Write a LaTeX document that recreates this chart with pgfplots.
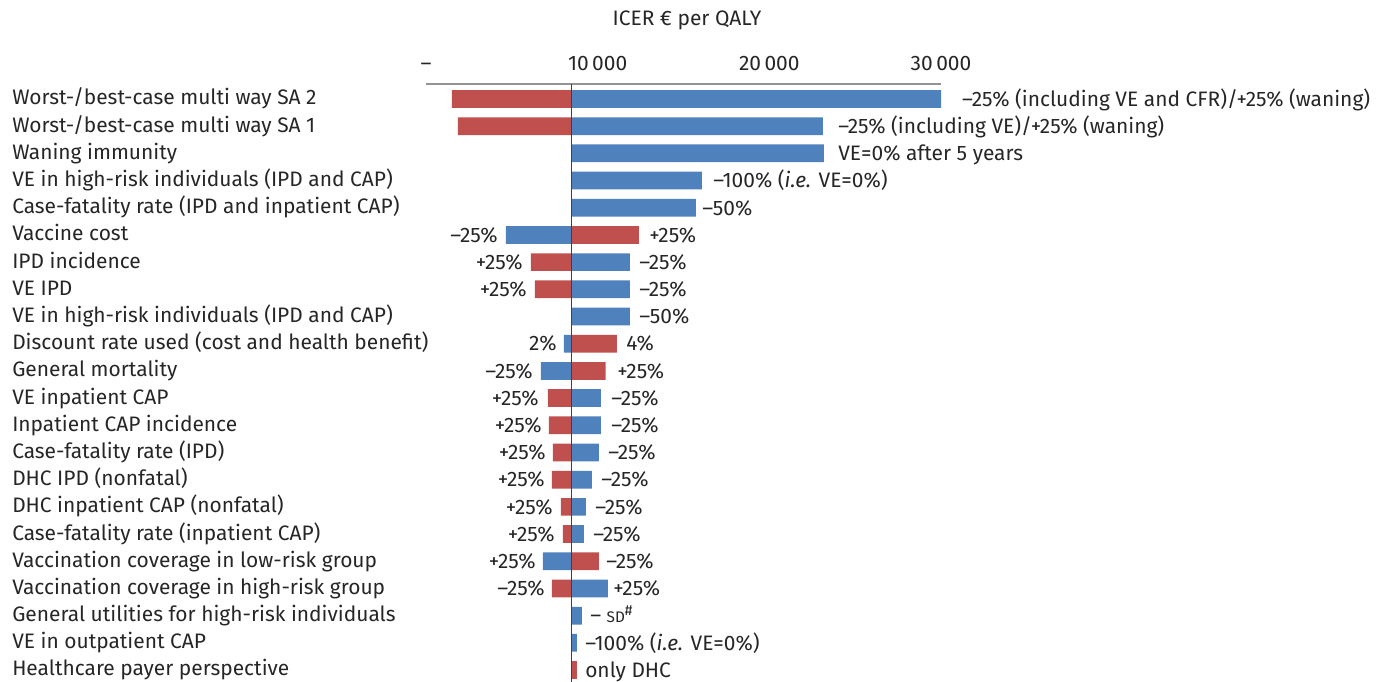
\documentclass[border=0pt]{standalone}
\usepackage{fontspec}
\setmainfont{Fira Sans}
\usepackage{pgfplots}
\usepackage{pgfplotstable}
\pgfplotsset{compat=1.18}
\definecolor{barblue}{HTML}{4F81BD}
\definecolor{barred}{HTML}{C0504D}
\definecolor{txt}{HTML}{262626}

\pgfplotstableread{
y x
1 1514
2 1864
7 6115
8 6348
12 7105
13 7164
14 7397
15 7338
16 7863
17 7979
19 7338
}\leftred
\pgfplotstableread{
y x
6 4659
10 8037
11 6698
18 6814
}\leftblue
\pgfplotstableread{
y x
1 30000
2 23120
3 23180
4 16075
5 15725
7 11881
8 11881
9 11881
12 10192
13 10192
14 10076
15 9668
16 9318
17 9202
19 10600
20 9085
21 8794
}\rightblue
\pgfplotstableread{
y x
6 12405
10 11124
11 10466
18 10076
22 8794
}\rightred

\begin{document}
\fontsize{15.7}{18}\selectfont
\begin{tikzpicture}[
  every node/.append style={text=txt},
  rl/.style={anchor=west, inner sep=0pt, text height=10.9pt, text depth=0pt},
  ll/.style={anchor=east, inner sep=0pt, text height=10.9pt, text depth=0pt}]
\path[use as bounding box] (0,0) rectangle (1034.25pt,511.5pt);
\node[inner sep=0pt, text height=10.9pt, text depth=0pt] at (515.25pt,497.5pt) {ICER € per QALY};
\begin{axis}[
  at={(319.5pt,0pt)}, anchor=south west,
  scale only axis, width=386.25pt, height=448.5pt,
  xmin=0, xmax=30000, ymin=0.45, ymax=22.44, y dir=reverse,
  x coord trafo/.code={\edef\pgfmathresult{\fpeval{(#1)-8490}}},
  scaled x ticks=false,
  axis line style={draw=none},
  major tick length=0pt,
  xtick={0,10000,20000,30000},
  xticklabels={–,10\,000,20\,000,30\,000},
  xticklabel pos=upper,
  xticklabel style={anchor=south, inner sep=0pt, text height=10.9pt, text depth=0pt, yshift=9.6pt},
  ytick={1,...,22},
  yticklabels={
    {Worst-/best-case multi way SA 2},
    {Worst-/best-case multi way SA 1},
    {Waning immunity},
    {VE in high-risk individuals (IPD and CAP)},
    {Case-fatality rate (IPD and inpatient CAP)},
    {Vaccine cost},
    {IPD incidence},
    {VE IPD},
    {VE in high-risk individuals (IPD and CAP)},
    {Discount rate used (cost and health benefit)},
    {General mortality},
    {VE inpatient CAP},
    {Inpatient CAP incidence},
    {Case-fatality rate (IPD)},
    {DHC IPD (nonfatal)},
    {DHC inpatient CAP (nonfatal)},
    {Case-fatality rate (inpatient CAP)},
    {Vaccination coverage in low-risk group},
    {Vaccination coverage in high-risk group},
    {General utilities for high-risk individuals},
    {VE in outpatient CAP},
    {Healthcare payer perspective}},
  yticklabel style={anchor=west, xshift=-310.5pt, yshift=1pt, inner sep=0pt, text height=10.9pt, text depth=0pt},
  xbar, bar width=13.3pt, bar shift=0pt,
  clip=false,
]
\addplot[xbar, bar shift=0pt, draw=none, fill=barred] table[x=x,y=y] {\leftred};
\addplot[xbar, bar shift=0pt, draw=none, fill=barblue] table[x=x,y=y] {\leftblue};
\addplot[xbar, bar shift=0pt, draw=none, fill=barblue] table[x=x,y=y] {\rightblue};
\addplot[xbar, bar shift=0pt, draw=none, fill=barred] table[x=x,y=y] {\rightred};

\draw[color=gray!85!white, line width=1pt] (axis cs:0,0.45) -- (axis cs:30000,0.45);
\draw[color=black!75, line width=1pt] (axis cs:8490,0.45) -- (axis cs:8490,22.44);

% right labels
\node[rl] at (axis cs:31222,1) {–25\% (including VE and CFR)/+25\% (waning)};
\node[rl] at (axis cs:24000,2) {–25\% (including VE)/+25\% (waning)};
\node[rl] at (axis cs:24000,3) {VE=0\% after 5 years};
\node[rl] at (axis cs:16718,4) {–100\% (\textit{i.e.} VE=0\%)};
\node[rl] at (axis cs:16077,5) {–50\%};
\node[rl] at (axis cs:12990,6) {+25\%};
\node[rl] at (axis cs:12407,7) {–25\%};
\node[rl] at (axis cs:12407,8) {–25\%};
\node[rl] at (axis cs:12407,9) {–50\%};
\node[rl] at (axis cs:11650,10) {4\%};
\node[rl] at (axis cs:11126,11) {+25\%};
\node[rl] at (axis cs:10776,12) {–25\%};
\node[rl] at (axis cs:10776,13) {–25\%};
\node[rl] at (axis cs:10602,14) {–25\%};
\node[rl] at (axis cs:10194,15) {–25\%};
\node[rl] at (axis cs:9844,16) {–25\%};
\node[rl] at (axis cs:9728,17) {–25\%};
\node[rl] at (axis cs:10485,18) {–25\%};
\node[rl] at (axis cs:10893,19) {+25\%};
\node[rl] at (axis cs:9553,20) {– {\fontsize{11.5}{12}\selectfont SD}\textsuperscript{\#}};
\node[rl] at (axis cs:9262,21) {–100\% (\textit{i.e.} VE=0\%)};
\node[rl] at (axis cs:9262,22) {only DHC};
% left labels
\node[ll] at (axis cs:4194,6) {–25\%};
\node[ll] at (axis cs:5650,7) {+25\%};
\node[ll] at (axis cs:5883,8) {+25\%};
\node[ll] at (axis cs:7631,10) {2\%};
\node[ll] at (axis cs:6233,11) {–25\%};
\node[ll] at (axis cs:6582,12) {+25\%};
\node[ll] at (axis cs:6757,13) {+25\%};
\node[ll] at (axis cs:6990,14) {+25\%};
\node[ll] at (axis cs:6932,15) {+25\%};
\node[ll] at (axis cs:7398,16) {+25\%};
\node[ll] at (axis cs:7514,17) {+25\%};
\node[ll] at (axis cs:6408,18) {+25\%};
\node[ll] at (axis cs:6932,19) {–25\%};
\end{axis}
\end{tikzpicture}
\end{document}
